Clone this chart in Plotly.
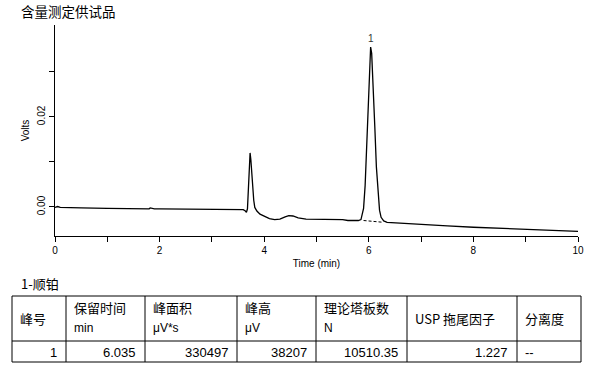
import plotly.graph_objects as go

# ---------------- data ----------------
time_min = [0.0, 0.05, 0.1, 0.15, 0.2, 0.5, 1.0, 1.5, 1.8, 1.82, 1.9, 2.0, 2.5, 3.0,
            3.5, 3.6, 3.64, 3.66, 3.68, 3.70, 3.72, 3.73, 3.745, 3.76, 3.78, 3.80,
            3.82, 3.86, 3.92, 4.0, 4.1, 4.2, 4.3, 4.4, 4.47, 4.55, 4.65, 4.8, 5.0,
            5.3, 5.5, 5.6, 5.8, 5.85, 5.9, 5.93, 5.96, 5.99, 6.015, 6.035, 6.055,
            6.085, 6.115, 6.145, 6.175, 6.205, 6.235, 6.285, 6.35, 6.6, 7.0, 7.5,
            8.0, 8.5, 9.0, 9.5, 9.7, 9.75, 10.0]
volts = [-0.0001, 0.0001, -0.0001, -0.0001, -0.0002, -0.0002, -0.0003, -0.0004,
         -0.0004, -0.0002, -0.0004, -0.0004, -0.0005, -0.0005,
         -0.0006, -0.0006, -0.0009, -0.0012, -0.0004, 0.0060, 0.0115, 0.0120,
         0.0105, 0.0075, 0.0045, 0.0015,
         -0.0001, -0.0009, -0.0016, -0.0021, -0.0026, -0.0028, -0.0027, -0.0022,
         -0.0019, -0.0020, -0.0024, -0.0027, -0.0027,
         -0.0027, -0.0028, -0.0030, -0.0030, -0.0028, -0.0003, 0.0048, 0.0142,
         0.0258, 0.0334, 0.0355, 0.0341,
         0.0273, 0.0178, 0.0089, 0.0027, -0.0007, -0.0023, -0.0031, -0.0034,
         -0.0036, -0.0039, -0.0042,
         -0.0045, -0.0047, -0.0049, -0.0051, -0.0053, -0.0052, -0.0054]

baseline_t = [5.9, 6.28]
baseline_v = [-0.0030, -0.0034]

peak_numbers = ["1"]
peak_times = [6.035]
peak_heights = [0.0355]

x_tickvals = [0, 2, 4, 6, 8, 10]
y_tickvals = [0.00, 0.02]
y_ticktext = ["0.00", "0.02"]

chart_title = "含量测定供试品"
compound_label = "1-顺铂"
header_line1 = ["峰号", "保留时间", "峰面积", "峰高", "理论塔板数", "USP 拖尾因子", "分离度"]
header_line2 = ["", "min", "μV*s", "μV", "N", "", ""]
row_values = ["1", "6.035", "330497", "38207", "10510.35", "1.227", "--"]

# ---------------- layout helpers ----------------
W, H = 594, 372
L, R, T, B = 55, 578, 25, 236


def px(x):
    return (x - L) / (R - L)


def py(y):
    return (B - y) / (B - T)


FONT = "Liberation Sans, Arial, Noto Sans CJK SC, sans-serif"
CJK = "Noto Sans CJK SC, Liberation Sans, sans-serif"

fig = go.Figure()
fig.add_trace(go.Scatter(x=time_min, y=volts, mode="lines",
                         line=dict(color="black", width=1.3), hoverinfo="skip"))
fig.add_trace(go.Scatter(x=baseline_t, y=baseline_v, mode="lines",
                         line=dict(color="black", width=1, dash="3px,2px"), hoverinfo="skip"))

annotations = []
for n, t, h in zip(peak_numbers, peak_times, peak_heights):
    annotations.append(dict(x=t, y=h, xref="x", yref="y", text=n, showarrow=False,
                            yanchor="bottom", yshift=1,
                            font=dict(family=FONT, size=10, color="#333")))

annotations.append(dict(x=px(19), y=py(11), xref="paper", yref="paper", text=chart_title,
                        showarrow=False, xanchor="left", yanchor="middle",
                        font=dict(family=CJK, size=13.5, color="black")))
annotations.append(dict(x=px(19), y=py(283), xref="paper", yref="paper", text=compound_label,
                        showarrow=False, xanchor="left", yanchor="middle",
                        font=dict(family=CJK, size=13, color="black")))

col_edges = [12, 66, 145, 237, 316, 407, 517, 581]
row_edges = [296, 341, 362]

shapes = []
for yv in row_edges:
    shapes.append(dict(type="line", xref="paper", yref="paper",
                       x0=px(col_edges[0]), x1=px(col_edges[-1]), y0=py(yv), y1=py(yv),
                       line=dict(color="black", width=1)))
for xv in col_edges:
    shapes.append(dict(type="line", xref="paper", yref="paper",
                       x0=px(xv), x1=px(xv), y0=py(row_edges[0]), y1=py(row_edges[-1]),
                       line=dict(color="black", width=1)))

for i in range(len(header_line1)):
    x0 = col_edges[i]
    x1 = col_edges[i + 1]
    if header_line2[i]:
        annotations.append(dict(x=px(x0 + 6), y=py(307), xref="paper", yref="paper",
                                text=header_line1[i], showarrow=False, xanchor="left",
                                yanchor="middle", font=dict(family=CJK, size=13, color="black")))
        annotations.append(dict(x=px(x0 + 6), y=py(328), xref="paper", yref="paper",
                                text=header_line2[i], showarrow=False, xanchor="left",
                                yanchor="middle", font=dict(family=FONT, size=12, color="black")))
    else:
        annotations.append(dict(x=px(x0 + 6), y=py(318), xref="paper", yref="paper",
                                text=header_line1[i], showarrow=False, xanchor="left",
                                yanchor="middle", font=dict(family=CJK, size=13, color="black")))
    val = row_values[i]
    if i == len(header_line1) - 1:
        annotations.append(dict(x=px(x0 + 6), y=py(352), xref="paper", yref="paper",
                                text=val, showarrow=False, xanchor="left", yanchor="middle",
                                font=dict(family=FONT, size=13, color="black")))
    else:
        annotations.append(dict(x=px(x1 - 7), y=py(352), xref="paper", yref="paper",
                                text=val, showarrow=False, xanchor="right", yanchor="middle",
                                font=dict(family=FONT, size=13, color="black")))

fig.update_layout(
    width=W, height=H,
    margin=dict(l=L, r=W - R, t=T, b=H - B, pad=0, autoexpand=False),
    paper_bgcolor="white", plot_bgcolor="white",
    showlegend=False,
    annotations=annotations,
    shapes=shapes,
    xaxis=dict(range=[0, 10], tickvals=x_tickvals, ticks="outside", ticklen=5,
               tickcolor="black", showline=True, linecolor="black", linewidth=1,
               showgrid=False, zeroline=False, automargin=False,
               minor=dict(dtick=1, ticks="outside", ticklen=5, tickcolor="black", showgrid=False),
               tickfont=dict(family=FONT, size=10, color="black"),
               title=dict(text="Time (min)", font=dict(family=FONT, size=10, color="black"),
                          standoff=4)),
    yaxis=dict(range=[-0.00644, 0.0404], tickvals=y_tickvals, ticktext=y_ticktext,
               ticks="outside", ticklen=5, tickcolor="black", tickangle=-90,
               showline=True, linecolor="black", linewidth=1,
               showgrid=False, zeroline=False, automargin=False,
               minor=dict(tickvals=[0.01, 0.03], ticks="outside", ticklen=5,
                          tickcolor="black", showgrid=False),
               tickfont=dict(family=FONT, size=10, color="black"),
               title=dict(text="Volts", font=dict(family=FONT, size=10, color="black"),
                          standoff=4)),
)

fig.write_html("out.html", config={"displayModeBar": False},
               post_script="document.body.style.margin='0';document.body.style.padding='0';")
